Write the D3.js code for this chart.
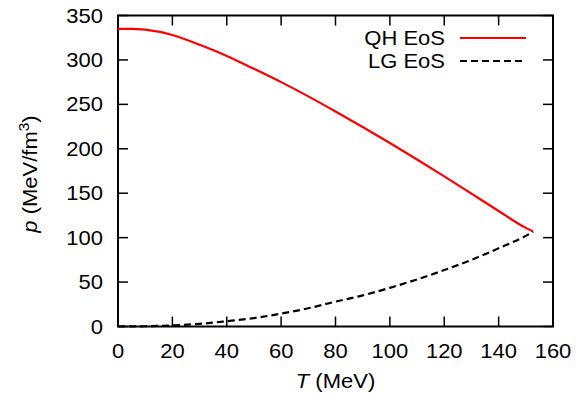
<!DOCTYPE html>
<html><head><meta charset="utf-8">
<script src="https://cdn.jsdelivr.net/npm/d3@7"></script>
<style>body{margin:0;background:#fff}svg{display:block}text{font-family:"Liberation Sans",Arial,Helvetica,sans-serif}</style>
</head><body><svg id="c" width="576" height="395"></svg>
<script>
const T = [0, 5, 10, 20, 30, 40, 50, 60, 70, 80, 90, 100, 110, 120, 130, 140, 150, 152.7];
const qh = [335, 335, 334, 328, 317, 304.5, 290, 275, 259, 242, 224.5, 206.5, 188, 169, 149.5, 130, 111, 107];
const lg = [0, 0.1, 0.3, 1.3, 3, 6, 9.5, 14.5, 20.5, 28, 35, 43.5, 53, 63.5, 75, 88, 102, 106.5];
const xTicks = [0, 20, 40, 60, 80, 100, 120, 140, 160];
const yTicks = [0, 50, 100, 150, 200, 250, 300, 350];
const seriesNames = ["QH EoS", "LG EoS"];

const svg = d3.select("#c");
const L = 118, R = 553, Tp = 15.5, B = 326.5;
const x = d3.scaleLinear().domain([0, 160]).range([L, R]);
const y = d3.scaleLinear().domain([0, 350]).range([B, Tp]);
const fs = 20, tl = 10, sx = 1.1;

function txt(px, py, anchor, extra) {
  const t = svg.append("text").attr("transform", `translate(${px},${py}) ${extra || ""} scale(${sx},1)`)
    .attr("text-anchor", anchor).attr("font-size", fs);
  return t;
}

const g = svg.append("g");
xTicks.forEach(t => {
  g.append("line").attr("x1", x(t)).attr("x2", x(t)).attr("y1", B).attr("y2", B - tl).attr("stroke", "#000").attr("stroke-width", 1.5);
  g.append("line").attr("x1", x(t)).attr("x2", x(t)).attr("y1", Tp).attr("y2", Tp + tl).attr("stroke", "#000").attr("stroke-width", 1.5);
  txt(x(t), B + 31, "middle").text(t);
});
yTicks.forEach(t => {
  g.append("line").attr("x1", L).attr("x2", L + tl).attr("y1", y(t)).attr("y2", y(t)).attr("stroke", "#000").attr("stroke-width", 1.5);
  g.append("line").attr("x1", R).attr("x2", R - tl).attr("y1", y(t)).attr("y2", y(t)).attr("stroke", "#000").attr("stroke-width", 1.5);
  txt(L - 15, y(t) + 7, "end").text(t);
});
g.append("rect").attr("x", L).attr("y", Tp).attr("width", R - L).attr("height", B - Tp).attr("fill", "none").attr("stroke", "#000").attr("stroke-width", 2);

const line = d3.line().curve(d3.curveMonotoneX).x((d, i) => x(T[i])).y(d => y(d));
svg.append("path").attr("d", line(qh)).attr("fill", "none").attr("stroke", "#ff0000").attr("stroke-width", 2.2);
svg.append("path").attr("d", line(lg)).attr("fill", "none").attr("stroke", "#000").attr("stroke-width", 2.2).attr("stroke-dasharray", "7,4");

const leg = [{n: seriesNames[0], c: "#ff0000", d: null, y: 38}, {n: seriesNames[1], c: "#000", d: "7,4", y: 61}];
leg.forEach(l => {
  txt(445, l.y + 7, "end").text(l.n);
  const ln = svg.append("line").attr("x1", 460).attr("x2", 526).attr("y1", l.y).attr("y2", l.y).attr("stroke", l.c).attr("stroke-width", 2.2);
  if (l.d) ln.attr("stroke-dasharray", l.d);
});

const xt = txt((L + R) / 2, 388, "middle");
xt.append("tspan").attr("font-style", "italic").text("T");
xt.append("tspan").text(" (MeV)");

const yt = svg.append("text").attr("transform", `translate(37,${(Tp + B) / 2 + 3}) rotate(-90) scale(${sx},1)`).attr("text-anchor", "middle").attr("font-size", fs);
yt.append("tspan").attr("font-style", "italic").text("p");
yt.append("tspan").text(" (MeV/fm");
yt.append("tspan").attr("font-size", 14).attr("dy", -8).text("3");
yt.append("tspan").attr("dy", 8).text(")");
</script></body></html>
